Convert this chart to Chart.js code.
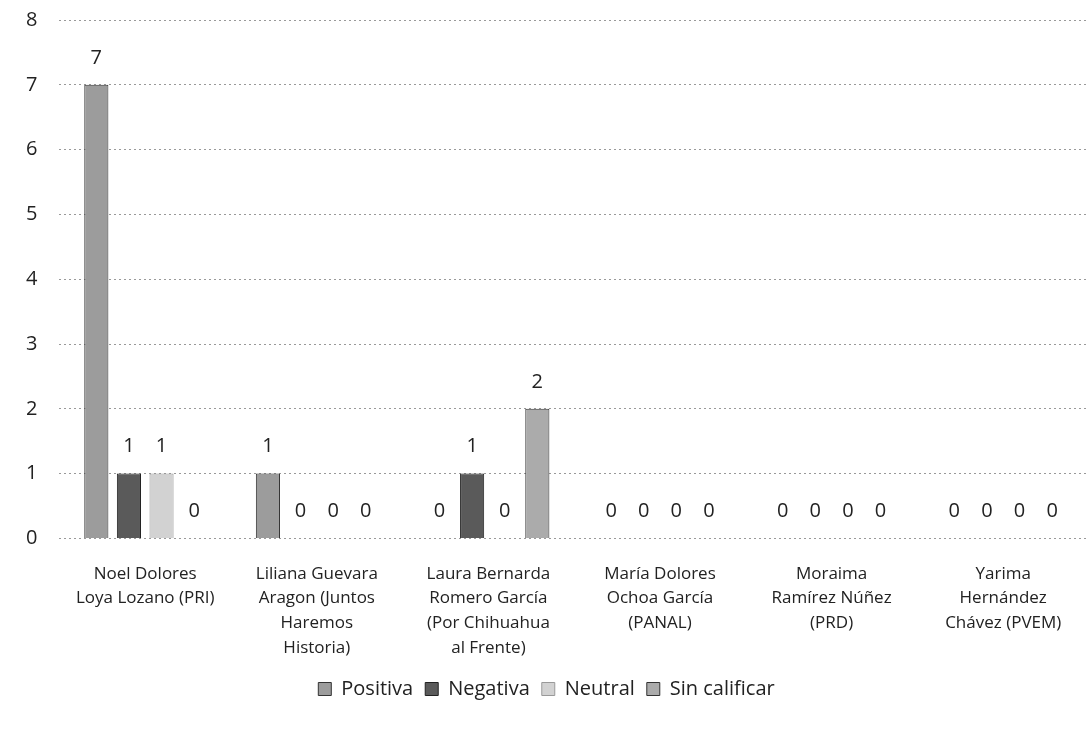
<!DOCTYPE html>
<html>
<head>
<meta charset="utf-8">
<script src="https://cdn.jsdelivr.net/npm/chart.js@4.4.1/dist/chart.umd.min.js"></script>
<style>
  html, body { margin: 0; padding: 0; background: #fff; }
  #wrap { width: 1089px; height: 729px; }
</style>
</head>
<body>
<div id="wrap"><canvas id="votosChart"></canvas></div>
<script>
const candidates = [
  ["Noel Dolores", "Loya Lozano (PRI)"],
  ["Liliana Guevara", "Aragon (Juntos", "Haremos", "Historia)"],
  ["Laura Bernarda", "Romero García", "(Por Chihuahua", "al Frente)"],
  ["María Dolores", "Ochoa García", "(PANAL)"],
  ["Moraima", "Ramírez Núñez", "(PRD)"],
  ["Yarima", "Hernández", "Chávez (PVEM)"]
];
const positiva = [7, 1, 0, 0, 0, 0];
const negativa = [1, 0, 1, 0, 0, 0];
const neutral = [1, 0, 0, 0, 0, 0];
const sinCalificar = [0, 0, 2, 0, 0, 0];
const yTicks = [0, 1, 2, 3, 4, 5, 6, 7, 8];

const fontFam = "'Open Sans', 'Liberation Sans', sans-serif";

// draws the value above every bar
const valueLabels = {
  id: "valueLabels",
  afterDatasetsDraw(chart) {
    const ctx = chart.ctx;
    ctx.save();
    ctx.font = "20px " + fontFam;
    ctx.fillStyle = "#222";
    ctx.textAlign = "center";
    ctx.textBaseline = "bottom";
    chart.data.datasets.forEach((ds, i) => {
      chart.getDatasetMeta(i).data.forEach((bar, j) => {
        ctx.fillText(ds.data[j], bar.x, bar.y - 17);
      });
    });
    ctx.restore();
  }
};

new Chart(document.getElementById("votosChart"), {
  type: "bar",
  data: {
    labels: candidates,
    datasets: [
      { label: "Positiva", data: positiva, backgroundColor: "#9c9c9c", borderColor: "#333", borderWidth: 1 },
      { label: "Negativa", data: negativa, backgroundColor: "#5a5a5a", borderColor: "#222", borderWidth: 1 },
      { label: "Neutral", data: neutral, backgroundColor: "#d2d2d2", borderColor: "#999", borderWidth: 1 },
      { label: "Sin calificar", data: sinCalificar, backgroundColor: "#ababab", borderColor: "#333", borderWidth: 1 }
    ]
  },
  options: {
    responsive: true,
    maintainAspectRatio: false,
    animation: false,
    layout: { padding: { left: 4, right: 0, top: 20, bottom: 20 } },
    datasets: { bar: { categoryPercentage: 0.76, barPercentage: 0.74 } },
    scales: {
      x: {
        afterFit: (axis) => { axis.height -= 8; },
        grid: { display: false },
        border: { display: false },
        ticks: { color: "#222", font: { size: 17, family: fontFam, lineHeight: 1.45 }, maxRotation: 0, autoSkip: false, padding: 15 }
      },
      y: {
        min: 0,
        max: 8,
        afterBuildTicks: (axis) => { axis.ticks = yTicks.map(v => ({ value: v })); },
        afterFit: (axis) => { axis.paddingTop = 0; },
        grid: { color: "#999", lineWidth: 1, drawTicks: false },
        border: { display: false, dash: [2, 3] },
        ticks: { color: "#222", font: { size: 20, family: fontFam }, padding: 22 }
      }
    },
    plugins: {
      legend: {
        position: "bottom",
        labels: {
          color: "#222",
          font: { size: 20, family: fontFam },
          boxWidth: 13,
          boxHeight: 13,
          padding: 12
        }
      },
      tooltip: { enabled: false }
    }
  },
  plugins: [valueLabels]
});
</script>
</body>
</html>
